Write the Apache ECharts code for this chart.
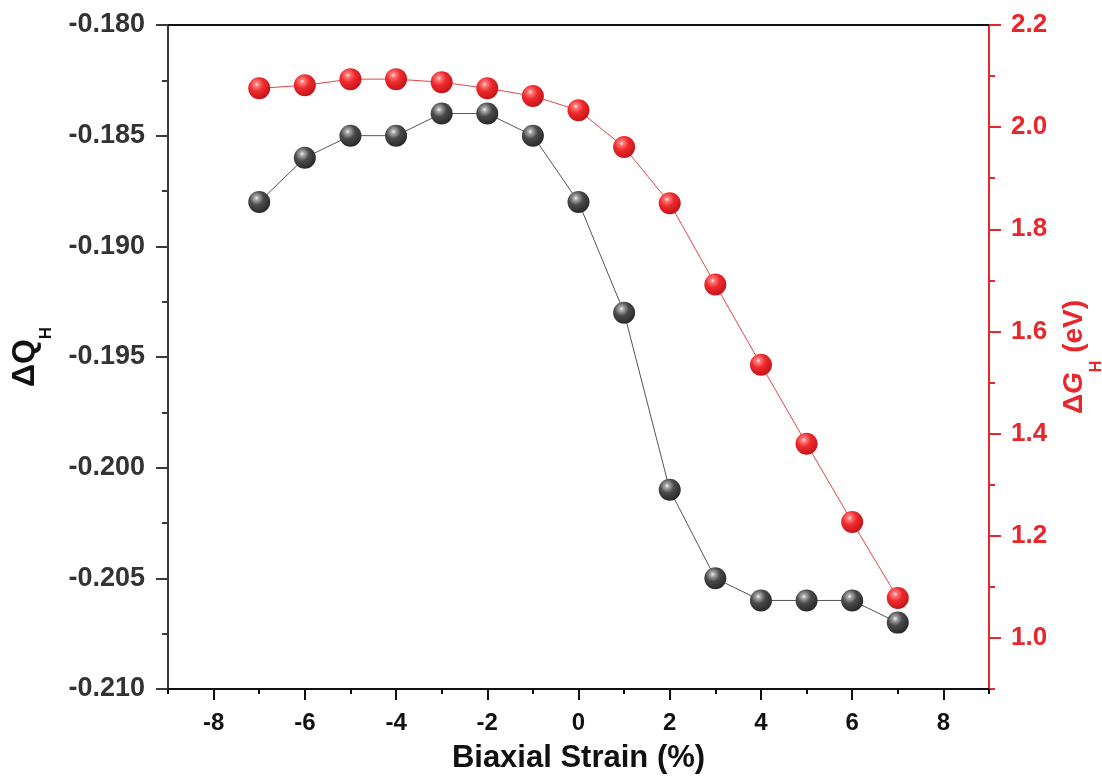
<!DOCTYPE html>
<html>
<head>
<meta charset="utf-8">
<script src="https://cdn.jsdelivr.net/npm/echarts@6/dist/echarts.min.js"></script>
<style>
html,body{margin:0;padding:0;background:#fff;}
#c{width:1102px;height:776px;}
</style>
</head>
<body>
<div id="c"></div>
<script>
const strain = [-7, -6, -5, -4, -3, -2, -1, 0, 1, 2, 3, 4, 5, 6, 7];
const deltaQ = [-0.188, -0.186, -0.185, -0.185, -0.184, -0.184, -0.185, -0.188, -0.193, -0.201, -0.205, -0.206, -0.206, -0.206, -0.207];
const deltaG = [2.076, 2.082, 2.094, 2.094, 2.088, 2.076, 2.061, 2.033, 1.961, 1.851, 1.692, 1.535, 1.380, 1.227, 1.078];
const xMajor = [-8, -6, -4, -2, 0, 2, 4, 6, 8];
const xMinor = [-9, -7, -5, -3, -1, 1, 3, 5, 7, 9];
const gMajor = [1.0, 1.2, 1.4, 1.6, 1.8, 2.0, 2.2];
const gMinor = [0.9, 1.1, 1.3, 1.5, 1.7, 1.9, 2.1];

const FONT = '"Liberation Sans", Arial, sans-serif';
const RED = '#e8262c';

function sphere(dark) {
  return {
    type: 'radial', x: 0.38, y: 0.32, r: 0.72,
    colorStops: dark ? [
      {offset: 0, color: '#f4f4f4'},
      {offset: 0.14, color: '#a8a8a8'},
      {offset: 0.45, color: '#4a4a4a'},
      {offset: 1, color: '#262626'}
    ] : [
      {offset: 0, color: '#ffe6e6'},
      {offset: 0.14, color: '#ff7a7a'},
      {offset: 0.45, color: '#ee2a2e'},
      {offset: 1, color: '#c21216'}
    ]
  };
}

const chart = echarts.init(document.getElementById('c'));
chart.setOption({
  animation: false,
  backgroundColor: '#fff',
  grid: {left: 168, right: 113, top: 25, bottom: 87, containLabel: false, outerBoundsMode: 'none'},
  xAxis: [
    {
      type: 'value', min: -9, max: 9, position: 'bottom',
      name: 'Biaxial Strain (%)', nameLocation: 'middle', nameGap: 54,
      nameTextStyle: {fontFamily: FONT, fontWeight: 'bold', fontSize: 31, color: '#111'},
      axisLine: {show: true, onZero: false, lineStyle: {color: '#111', width: 2}},
      axisTick: {show: true, inside: false, length: 11, lineStyle: {color: '#111', width: 2}, customValues: xMajor},
      axisLabel: {show: true, margin: 22, fontFamily: FONT, fontWeight: 'bold', fontSize: 24, color: '#111', customValues: xMajor},
      splitLine: {show: false}
    },
    {
      type: 'value', min: -9, max: 9, position: 'bottom',
      axisLine: {show: false, onZero: false},
      axisTick: {show: true, inside: false, length: 5, lineStyle: {color: '#111', width: 2}, customValues: xMinor},
      axisLabel: {show: false},
      splitLine: {show: false}
    },
    {
      type: 'value', min: -9, max: 9, position: 'top',
      axisLine: {show: true, onZero: false, lineStyle: {color: '#111', width: 2}},
      axisTick: {show: false}, axisLabel: {show: false}, splitLine: {show: false}
    }
  ],
  yAxis: [
    {
      type: 'value', min: -0.21, max: -0.18, interval: 0.005, position: 'left',
      name: '{d|ΔQ}{s|H}', nameLocation: 'middle', nameGap: 113, nameRotate: 90,
      nameTextStyle: {
        color: '#111',
        rich: {
          d: {fontFamily: FONT, fontWeight: 'bold', fontSize: 32, lineHeight: 60, color: '#111'},
          s: {fontFamily: FONT, fontWeight: 'bold', fontSize: 17, lineHeight: 17, color: '#111', verticalAlign: 'bottom'}
        }
      },
      axisLine: {show: true, onZero: false, lineStyle: {color: '#3a3a3a', width: 2}},
      axisTick: {show: true, inside: false, length: 12, lineStyle: {color: '#3a3a3a', width: 2}},
      minorTick: {show: true, splitNumber: 2, length: 6, lineStyle: {color: '#3a3a3a', width: 2}},
      axisLabel: {show: true, margin: 23, fontFamily: FONT, fontWeight: 'bold', fontSize: 27, color: '#333',
        formatter: v => v.toFixed(3)},
      splitLine: {show: false}
    },
    {
      type: 'value', min: 0.9, max: 2.2, position: 'right',
      name: '{d|Δ}{i|G}{s|H}{d| (eV)}', nameLocation: 'middle', nameGap: 54, nameRotate: 90,
      nameTextStyle: {
        color: RED,
        rich: {
          d: {fontFamily: FONT, fontWeight: 'bold', fontSize: 28, lineHeight: 62, color: RED},
          i: {fontFamily: FONT, fontWeight: 'bold', fontStyle: 'italic', fontSize: 28, lineHeight: 62, color: RED},
          s: {fontFamily: FONT, fontWeight: 'bold', fontSize: 16, lineHeight: 16, color: RED, verticalAlign: 'bottom'}
        }
      },
      axisLine: {show: true, onZero: false, lineStyle: {color: RED, width: 2}},
      axisTick: {show: true, inside: false, length: 12, lineStyle: {color: RED, width: 2}, customValues: gMajor},
      axisLabel: {show: true, margin: 22, fontFamily: FONT, fontWeight: 'bold', fontSize: 26, color: RED,
        customValues: gMajor, formatter: v => v.toFixed(1)},
      splitLine: {show: false}
    },
    {
      type: 'value', min: 0.9, max: 2.2, position: 'right',
      axisLine: {show: false, onZero: false},
      axisTick: {show: true, inside: false, length: 6, lineStyle: {color: RED, width: 2}, customValues: gMinor},
      axisLabel: {show: false},
      splitLine: {show: false}
    }
  ],
  series: [
    {
      type: 'line', xAxisIndex: 0, yAxisIndex: 0,
      data: strain.map((x, i) => [x, deltaQ[i]]),
      symbol: 'circle', symbolSize: 22,
      lineStyle: {color: '#555', width: 1},
      itemStyle: {color: sphere(true), borderWidth: 0},
      z: 3
    },
    {
      type: 'line', xAxisIndex: 0, yAxisIndex: 1,
      data: strain.map((x, i) => [x, deltaG[i]]),
      symbol: 'circle', symbolSize: 22,
      lineStyle: {color: '#e0464a', width: 1},
      itemStyle: {color: sphere(false), borderWidth: 0},
      z: 3
    }
  ]
});
</script>
</body>
</html>
